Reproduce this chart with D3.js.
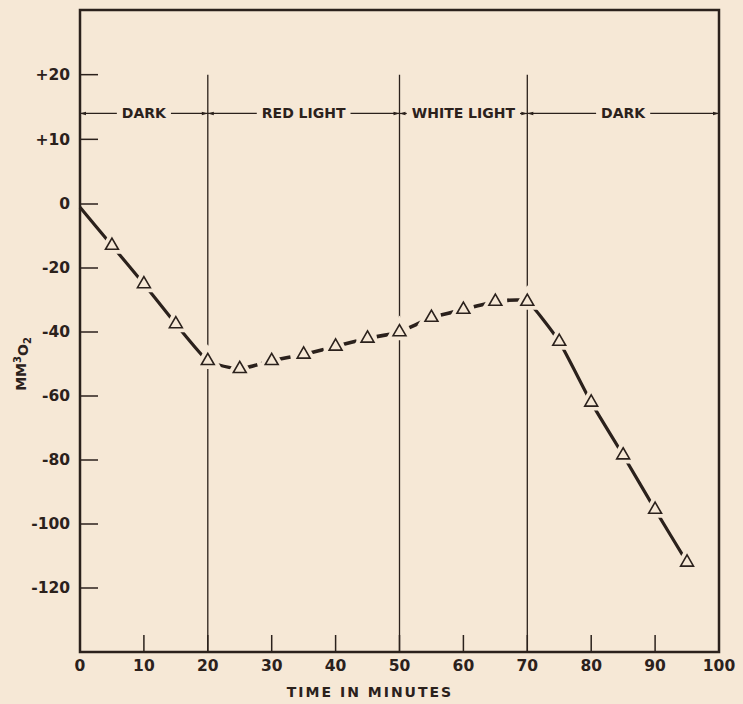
<!DOCTYPE html>
<html>
<head>
<meta charset="utf-8">
<script src="https://d3js.org/d3.v7.min.js"></script>
<style>
  body { margin: 0; background: #f6e8d6; }
  svg { display: block; }
  text { font-family: "DejaVu Sans", sans-serif; fill: #2b211c; font-weight: bold; }
</style>
</head>
<body>
<div id="chart"></div>
<script>
// readings, minutes vs mm3 O2
const minutes = [0, 5, 10, 15, 20, 25, 30, 35, 40, 45, 50, 55, 60, 65, 70, 75, 80, 85, 90, 95];
const oxygen = [-1, -13, -25, -37.5, -49, -51.5, -49, -47, -44.5, -42, -40, -35.5, -33, -30.5, -30.5, -43, -62, -78.5, -95.5, -112];

const xTicks = [0, 10, 20, 30, 40, 50, 60, 70, 80, 90, 100];
const yTicks = [20, 10, 0, -20, -40, -60, -80, -100, -120];

const phaseEdges = [0, 20, 50, 70, 100];
const phaseNames = ["DARK", "RED LIGHT", "WHITE LIGHT", "DARK"];
const phaseLevel = 14;

const ink = "#2b211c", paper = "#f6e8d6";
const W = 743, H = 704;

const svg = d3.select("#chart").append("svg")
  .attr("width", W).attr("height", H);

// the positive side of the original axis is stretched (+10 per gridstep)
const x = d3.scaleLinear().domain([0, 100]).range([80, 719]);
const y = d3.scaleLinear().domain([-140, 0, 30]).range([652, 204, 10]);

// frame
svg.append("rect")
  .attr("x", x(0)).attr("y", y(30))
  .attr("width", x(100) - x(0)).attr("height", y(-140) - y(30))
  .attr("fill", "none").attr("stroke", ink).attr("stroke-width", 2.5);

// y ticks (inward)
svg.append("g").selectAll("line").data(yTicks).join("line")
  .attr("x1", x(0)).attr("x2", x(0) + 18)
  .attr("y1", d => y(d)).attr("y2", d => y(d))
  .attr("stroke", ink).attr("stroke-width", 1.5);
svg.append("g").selectAll("text").data(yTicks).join("text")
  .attr("x", x(0) - 10).attr("y", d => y(d))
  .attr("dy", "0.35em").attr("text-anchor", "end")
  .style("font-size", "15.5px")
  .text(d => d > 0 ? "+" + d : d);

// x ticks (inward)
svg.append("g").selectAll("line").data(xTicks).join("line")
  .attr("x1", d => x(d)).attr("x2", d => x(d))
  .attr("y1", y(-140)).attr("y2", y(-140) - 17)
  .attr("stroke", ink).attr("stroke-width", 1.5);
svg.append("g").selectAll("text").data(xTicks).join("text")
  .attr("x", d => x(d)).attr("y", y(-140) + 19)
  .attr("text-anchor", "middle")
  .style("font-size", "15.5px")
  .text(d => d);

// phase boundaries
svg.append("g").selectAll("line").data(phaseEdges.slice(1, -1)).join("line")
  .attr("x1", d => x(d)).attr("x2", d => x(d))
  .attr("y1", y(20)).attr("y2", y(-140))
  .attr("stroke", ink).attr("stroke-width", 1.3);

// phase labels with arrows out to each boundary
const defs = svg.append("defs");
defs.append("marker").attr("id", "arr")
  .attr("viewBox", "0 0 10 10").attr("refX", 10).attr("refY", 5)
  .attr("markerWidth", 7).attr("markerHeight", 5).attr("orient", "auto")
  .append("path").attr("d", "M0,2L10,5L0,8Z").attr("fill", ink);

const phases = phaseNames.map((name, i) => ({ name, a: phaseEdges[i], b: phaseEdges[i + 1] }));
const pg = svg.append("g").selectAll("g").data(phases).join("g");
pg.append("text")
  .attr("x", d => (x(d.a) + x(d.b)) / 2).attr("y", y(phaseLevel))
  .attr("dy", "0.35em").attr("text-anchor", "middle")
  .style("font-size", "14px")
  .text(d => d.name)
  .each(function (d) { d.w = this.getComputedTextLength(); });
pg.append("line")
  .attr("x1", d => (x(d.a) + x(d.b)) / 2 - d.w / 2 - 5).attr("x2", d => x(d.a))
  .attr("y1", y(phaseLevel)).attr("y2", y(phaseLevel))
  .attr("stroke", ink).attr("stroke-width", 1.2).attr("marker-end", "url(#arr)");
pg.append("line")
  .attr("x1", d => (x(d.a) + x(d.b)) / 2 + d.w / 2 + 5).attr("x2", d => x(d.b))
  .attr("y1", y(phaseLevel)).attr("y2", y(phaseLevel))
  .attr("stroke", ink).attr("stroke-width", 1.2).attr("marker-end", "url(#arr)");

// data curve: solid in the dark phases (and the dip to 25), dashed under light
const pts = minutes.map((m, i) => [m, oxygen[i]]);
const line = d3.line().x(d => x(d[0])).y(d => y(d[1])).curve(d3.curveCardinal.tension(0.5));

defs.append("clipPath").attr("id", "clipLight").append("rect")
  .attr("x", x(25)).attr("y", 0).attr("width", x(70) - x(25)).attr("height", H);
const dark = defs.append("clipPath").attr("id", "clipDark");
dark.append("rect").attr("x", 0).attr("y", 0).attr("width", x(25)).attr("height", H);
dark.append("rect").attr("x", x(70)).attr("y", 0).attr("width", W).attr("height", H);

svg.append("path").datum(pts)
  .attr("d", line).attr("fill", "none")
  .attr("stroke", ink).attr("stroke-width", 3.2)
  .attr("clip-path", "url(#clipDark)");
svg.append("path").datum(pts)
  .attr("d", line).attr("fill", "none")
  .attr("stroke", ink).attr("stroke-width", 3.6)
  .attr("stroke-dasharray", "13,4")
  .attr("clip-path", "url(#clipLight)");

// open triangles, with a paper halo that breaks the curve
const tri = d3.symbol(d3.symbolTriangle, 72);
const marks = svg.append("g").selectAll("g").data(pts.slice(1)).join("g")
  .attr("transform", d => `translate(${x(d[0])},${y(d[1])})`);
marks.append("path").attr("d", tri)
  .attr("fill", paper).attr("stroke", paper).attr("stroke-width", 9);
marks.append("path").attr("d", tri)
  .attr("fill", paper).attr("stroke", ink).attr("stroke-width", 1.6);

// axis titles
svg.append("text")
  .attr("x", 370).attr("y", 697)
  .attr("text-anchor", "middle")
  .style("font-size", "14px").style("letter-spacing", "2px")
  .text("TIME IN MINUTES");

const yl = svg.append("text")
  .attr("transform", `translate(26,${y(-50)}) rotate(-90)`)
  .attr("text-anchor", "middle")
  .style("font-size", "14px");
yl.append("tspan").text("MM");
yl.append("tspan").attr("dy", "-0.5em").style("font-size", "10px").text("3");
yl.append("tspan").attr("dy", "0.5em").text("O");
yl.append("tspan").attr("dy", "0.3em").style("font-size", "10px").text("2");
</script>
</body>
</html>
